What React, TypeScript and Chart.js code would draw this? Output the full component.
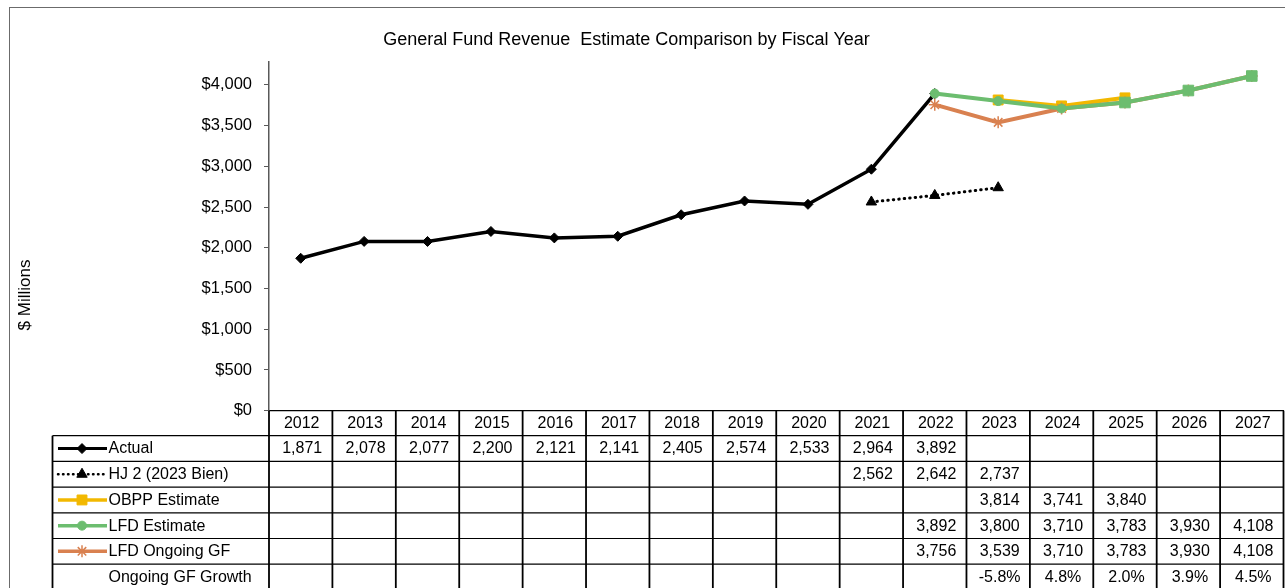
import React, { useEffect, useRef } from 'react';
import { Chart, registerables } from 'chart.js';
import { drawPoint } from 'chart.js/helpers';

Chart.register(...registerables);

const FONT = "'Liberation Sans', Arial, Helvetica, sans-serif";

const chartTitle = 'General Fund Revenue  Estimate Comparison by Fiscal Year';
const yAxisTitle = '$ Millions';

const years = ['2012', '2013', '2014', '2015', '2016', '2017', '2018', '2019', '2020', '2021', '2022', '2023', '2024', '2025', '2026', '2027'];

const actual = [1871, 2078, 2077, 2200, 2121, 2141, 2405, 2574, 2533, 2964, 3892, null, null, null, null, null];
const hj2 = [null, null, null, null, null, null, null, null, null, 2562, 2642, 2737, null, null, null, null];
const obpp = [null, null, null, null, null, null, null, null, null, null, null, 3814, 3741, 3840, null, null];
const lfdEstimate = [null, null, null, null, null, null, null, null, null, null, 3892, 3800, 3710, 3783, 3930, 4108];
const lfdOngoing = [null, null, null, null, null, null, null, null, null, null, 3756, 3539, 3710, 3783, 3930, 4108];
const ongoingGrowth = [null, null, null, null, null, null, null, null, null, null, null, -5.8, 4.8, 2.0, 3.9, 4.5];

const yTickValues = [0, 500, 1000, 1500, 2000, 2500, 3000, 3500, 4000];
const yAxisMax = 4280;

const COLORS = {
  actual: '#000000',
  hj2: '#000000',
  obpp: '#F2B800',
  lfdEst: '#6CBD6F',
  lfdOngoing: '#D98150',
};

const lfdEstStyles = lfdEstimate.map((v, i) => (i >= 13 ? 'rect' : 'circle'));
const lfdEstRadius = lfdEstimate.map((v, i) => (i >= 13 ? 7.5 : 4.5));

type RowKey = {
  color: string;
  dash?: number[];
  width: number;
  pointStyle: string;
  radius: number;
  borderWidth: number;
};

const tableRows: { label: string; values: (number | null)[]; pct?: boolean; key?: RowKey }[] = [
  { label: 'Actual', values: actual, key: { color: COLORS.actual, width: 3, pointStyle: 'rectRot', radius: 5, borderWidth: 1 } },
  { label: 'HJ 2 (2023 Bien)', values: hj2, key: { color: COLORS.hj2, width: 2.5, dash: [0.5, 4.5], pointStyle: 'triangle', radius: 6, borderWidth: 1 } },
  { label: 'OBPP Estimate', values: obpp, key: { color: COLORS.obpp, width: 3.5, pointStyle: 'rect', radius: 7, borderWidth: 1 } },
  { label: 'LFD Estimate', values: lfdEstimate, key: { color: COLORS.lfdEst, width: 3.5, pointStyle: 'circle', radius: 4.5, borderWidth: 1 } },
  { label: 'LFD Ongoing GF', values: lfdOngoing, key: { color: COLORS.lfdOngoing, width: 3.5, pointStyle: 'star', radius: 6, borderWidth: 1.5 } },
  { label: 'Ongoing GF Growth', values: ongoingGrowth, pct: true },
];

const fmt = (v: number | null, pct?: boolean) => {
  if (v == null) return '';
  if (pct) return v.toFixed(1) + '%';
  return v.toLocaleString('en-US');
};

const decorPlugin = {
  id: 'excelDecor',
  afterDraw(chart: any) {
    const { ctx, chartArea } = chart;
    const xs = chart.scales.x;
    const L = chartArea.left;
    const R = chartArea.right;
    const B = chartArea.bottom;
    const n = years.length;
    const colW = (R - L) / n;
    const headerH = 25;
    const rowH = 25.7;
    const tableTop = B + headerH;
    const labelLeft = 52.5;
    const bottom = tableTop + rowH * tableRows.length;

    ctx.save();

    // outer chart border
    ctx.strokeStyle = '#6b6b6b';
    ctx.lineWidth = 1;
    ctx.strokeRect(9.5, 7.5, 1400, 700);

    // title
    ctx.fillStyle = '#000';
    ctx.font = `18px ${FONT}`;
    ctx.textAlign = 'center';
    ctx.textBaseline = 'middle';
    ctx.fillText(chartTitle, 626.5, 40);

    // y axis title
    ctx.save();
    ctx.translate(25, 295);
    ctx.rotate(-Math.PI / 2);
    ctx.font = `17px ${FONT}`;
    ctx.fillText(yAxisTitle, 0, 0);
    ctx.restore();

    // table lines
    const line = (x1: number, y1: number, x2: number, y2: number) => {
      ctx.beginPath();
      ctx.moveTo(x1, y1);
      ctx.lineTo(x2, y2);
      ctx.stroke();
    };
    ctx.strokeStyle = '#000';
    ctx.lineWidth = 1.8;
    for (let i = 0; i <= n; i++) {
      const bx = i === n ? xs.getPixelForValue(n - 1) + colW / 2 : xs.getPixelForValue(i) - colW / 2;
      line(bx, B, bx, bottom);
    }
    line(labelLeft, tableTop, labelLeft, bottom);
    ctx.lineWidth = 1.2;
    for (let k = 0; k <= tableRows.length; k++) {
      const y = tableTop + k * rowH;
      line(labelLeft, y, R, y);
    }

    // header years
    ctx.fillStyle = '#000';
    ctx.font = `16px ${FONT}`;
    ctx.textAlign = 'center';
    ctx.textBaseline = 'middle';
    years.forEach((yr, i) => {
      ctx.fillText(yr, xs.getPixelForValue(i) + 1, B + headerH / 2 + 0.5);
    });

    // rows
    tableRows.forEach((row, r) => {
      const cy = tableTop + r * rowH + rowH / 2 + 0.5;
      ctx.textAlign = 'center';
      ctx.fillStyle = '#000';
      row.values.forEach((v, i) => {
        const s = fmt(v, row.pct);
        if (s) ctx.fillText(s, xs.getPixelForValue(i) + 1.5, cy);
      });
      // legend key
      if (row.key) {
        const k = row.key;
        ctx.save();
        ctx.strokeStyle = k.color;
        ctx.lineWidth = k.width;
        if (k.dash) {
          ctx.setLineDash(k.dash);
          ctx.lineCap = 'round';
        }
        line(58, cy - 0.5, 107, cy - 0.5);
        ctx.setLineDash([]);
        ctx.lineCap = 'butt';
        ctx.fillStyle = k.color;
        ctx.strokeStyle = k.color;
        ctx.lineWidth = k.borderWidth;
        drawPoint(ctx, { pointStyle: k.pointStyle as any, rotation: 0, radius: k.radius, borderWidth: k.borderWidth }, 82, cy - 0.5);
        ctx.restore();
      }
      ctx.textAlign = 'left';
      ctx.fillStyle = '#000';
      ctx.fillText(row.label, 108.5, cy);
    });

    ctx.restore();
  },
};

export default function App() {
  const canvasRef = useRef<HTMLCanvasElement | null>(null);

  useEffect(() => {
    const canvas = canvasRef.current;
    if (!canvas) return;
    const chart = new Chart(canvas, {
      type: 'line',
      data: {
        labels: years,
        datasets: [
          {
            label: 'Actual',
            data: actual,
            borderColor: COLORS.actual,
            backgroundColor: COLORS.actual,
            borderWidth: 3.5,
            pointStyle: 'rectRot',
            pointRadius: 5,
            pointBorderWidth: 1,
            order: 3,
          },
          {
            label: 'HJ 2 (2023 Bien)',
            data: hj2,
            borderColor: COLORS.hj2,
            backgroundColor: COLORS.hj2,
            borderWidth: 3,
            borderDash: [0.5, 5],
            borderCapStyle: 'round',
            pointStyle: 'triangle',
            pointRadius: 6,
            pointBorderWidth: 1,
            order: 4,
          },
          {
            label: 'OBPP Estimate',
            data: obpp,
            borderColor: COLORS.obpp,
            backgroundColor: COLORS.obpp,
            borderWidth: 4,
            pointStyle: 'rect',
            pointRadius: 7,
            pointBorderWidth: 1,
            order: 2,
          },
          {
            label: 'LFD Estimate',
            data: lfdEstimate,
            borderColor: COLORS.lfdEst,
            backgroundColor: COLORS.lfdEst,
            borderWidth: 4,
            pointStyle: lfdEstStyles as any,
            pointRadius: lfdEstRadius,
            pointBorderWidth: 1,
            order: 0,
          },
          {
            label: 'LFD Ongoing GF',
            data: lfdOngoing,
            borderColor: COLORS.lfdOngoing,
            backgroundColor: COLORS.lfdOngoing,
            borderWidth: 4,
            pointStyle: 'star',
            pointRadius: 6,
            pointBorderWidth: 1.5,
            order: 1,
          },
        ],
      },
      options: {
        responsive: false,
        animation: false,
        devicePixelRatio: 1,
        layout: { autoPadding: false, padding: { left: 0, top: 62, right: 1.5, bottom: 0 } },
        plugins: {
          legend: { display: false },
          tooltip: { enabled: false },
          title: { display: false },
        },
        elements: { line: { tension: 0 } },
        scales: {
          x: {
            type: 'category',
            offset: true,
            grid: { display: false, offset: true },
            border: { display: true, color: '#000', width: 1.3 },
            ticks: { display: false },
            afterFit: (scale: any) => {
              scale.height = 177.3;
              scale.paddingLeft = 0;
              scale.paddingRight = 0;
            },
          },
          y: {
            min: 0,
            max: yAxisMax,
            grid: { display: true, drawOnChartArea: false, drawTicks: true, tickLength: 5, tickColor: '#595959', tickWidth: 1 },
            border: { display: true, color: '#595959', width: 1.5 },
            afterBuildTicks: (scale: any) => {
              scale.ticks = yTickValues.map((v) => ({ value: v }));
            },
            ticks: {
              padding: 12,
              color: '#000',
              font: { family: FONT, size: 16.5 },
              callback: (v: any) => '$' + Number(v).toLocaleString('en-US'),
            },
            afterFit: (scale: any) => {
              scale.width = 269;
              scale.paddingTop = 0;
              scale.paddingBottom = 0;
            },
          },
        },
      },
      plugins: [decorPlugin],
    });
    return () => chart.destroy();
  }, []);

  return (
    <div style={{ position: 'fixed', left: 0, top: 0, width: 1285, height: 588, background: '#fff' }}>
      <canvas ref={canvasRef} width={1285} height={588} style={{ display: 'block' }} />
    </div>
  );
}
